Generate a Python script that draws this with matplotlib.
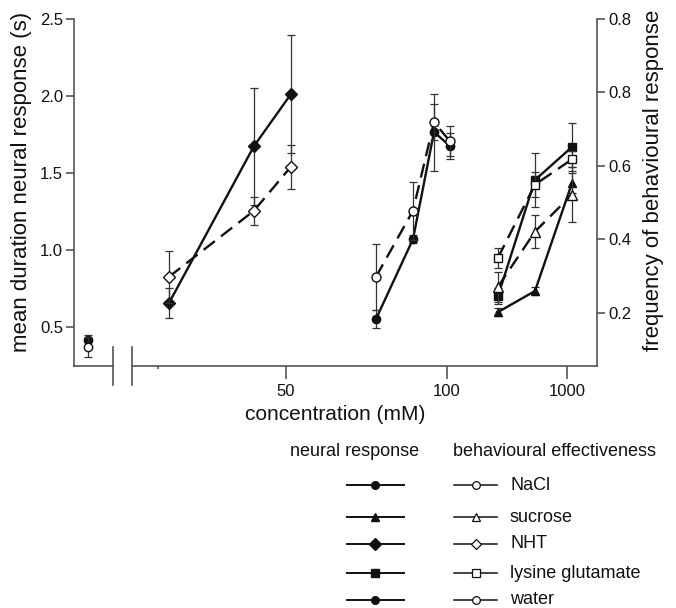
import matplotlib
matplotlib.use("Agg")
import matplotlib.pyplot as plt
from matplotlib.lines import Line2D

plt.rcParams['font.family'] = ['Liberation Sans', 'DejaVu Sans']

# ---------------- data (x = position along the broken concentration axis) ----------------
water_x = [14]
water_neural = [0.416]
water_neural_err = [0.035]
water_behav = [0.107]
water_behav_err = [0.027]

nht_x = [95, 180, 217]
nht_neural = [0.656, 1.675, 2.013]
nht_neural_err = [0.10, 0.38, 0.38]
nht_behav = [0.298, 0.478, 0.598]
nht_behav_err = [0.071, 0.038, 0.060]

nacl_x = [302, 339, 360, 376]
nacl_neural = [0.552, 1.071, 1.766, 1.675]
nacl_neural_err = [0.058, 0.026, 0.25, 0.084]
nacl_behav = [0.298, 0.478, 0.719, 0.667]
nacl_behav_err = [0.090, 0.079, 0.049, 0.041]

sucrose_x = [424, 461, 498]
sucrose_neural = [0.597, 0.734, 1.435]
sucrose_neural_err = [0.026, 0.026, 0.065]
sucrose_behav = [0.271, 0.421, 0.522]
sucrose_behav_err = [0.041, 0.046, 0.074]

lysglu_x = [424, 461, 498]
lysglu_neural = [0.701, 1.455, 1.669]
lysglu_neural_err = [0.052, 0.175, 0.156]
lysglu_behav = [0.350, 0.549, 0.618]
lysglu_behav_err = [0.027, 0.033, 0.022]

x_tick_pos = [212, 373, 493]
x_tick_labels = ["50", "100", "1000"]
left_ticks = [0.5, 1.0, 1.5, 2.0, 2.5]
left_tick_labels = ["0.5", "1.0", "1.5", "2.0", "2.5"]
right_ticks = [0.2, 0.4, 0.6, 0.8, 1.0]
right_tick_labels = ["0.2", "0.4", "0.6", "0.8", "0.8"]

legend_names = ["NaCl", "sucrose", "NHT", "lysine glutamate", "water"]
legend_markers = ["o", "^", "D", "s", "o"]

# ---------------- figure ----------------
W, H = 676, 608
fig = plt.figure(figsize=(W / 100, H / 100), dpi=100)
ax_l, ax_r, ax_t, ax_b = 74, 597, 19, 366
ax = fig.add_axes([ax_l / W, 1 - ax_b / H, (ax_r - ax_l) / W, (ax_b - ax_t) / H])
ax2 = ax.twinx()

SPINE = '#555555'
INK = '#111111'
TXT = '#111111'

ax.set_xlim(0, 523)
ax.set_ylim(0.247, 2.5)
ax2.set_ylim(0.055, 1.0)

for a in (ax, ax2):
    a.spines['top'].set_visible(False)
    a.spines['bottom'].set_visible(False)
    for s in ('left', 'right'):
        a.spines[s].set_color(SPINE)
        a.spines[s].set_linewidth(1.2)
    a.patch.set_visible(False)
ax.spines['right'].set_visible(False)
ax2.spines['left'].set_visible(False)

# broken bottom axis
tr = ax.get_xaxis_transform()
ax.plot([0, 39], [0, 0], color=SPINE, lw=1.2, transform=tr, clip_on=False)
ax.plot([58, 523], [0, 0], color=SPINE, lw=1.2, transform=tr, clip_on=False)
for bx in (39, 58):
    ax.plot([bx, bx], [-0.055, 0.055], color=SPINE, lw=1.2, transform=tr, clip_on=False)

ax.set_xticks(x_tick_pos)
ax.set_xticklabels(x_tick_labels, fontsize=12, color=TXT)
ax.set_xticks([84], minor=True)
ax.tick_params(axis='x', which='major', length=9, width=1.2, color=SPINE, pad=4)
ax.tick_params(axis='x', which='minor', length=2, width=1.2, color=SPINE)

ax.set_yticks(left_ticks)
ax.set_yticklabels(left_tick_labels, fontsize=12, color=TXT)
ax.tick_params(axis='y', length=6, width=1.2, color=SPINE, pad=2)
ax2.set_yticks(right_ticks)
ax2.set_yticklabels(right_tick_labels, fontsize=12, color=TXT)
ax2.tick_params(axis='y', length=6, width=1.2, color=SPINE, pad=2)

ax.set_xlabel("concentration (mM)", fontsize=15, color=TXT, labelpad=4)
fig.text(22 / W, 1 - 182 / H, "mean duration neural response (s)", rotation=90,
         fontsize=16, color=TXT, ha='center', va='center')
fig.text(654 / W, 1 - 180 / H, "frequency of behavioural response", rotation=90,
         fontsize=16, color=TXT, ha='center', va='center')

DASH = (0, (6, 3.3))
err_kw = dict(ecolor='#333333', elinewidth=0.9, capsize=3.2, capthick=0.9)


def neural(x, y, e, m, ms):
    ax.errorbar(x, y, yerr=e, fmt='none', **err_kw, zorder=2)
    ax.plot(x, y, color=INK, lw=1.7, marker=m, ms=ms, mfc=INK, mec=INK, zorder=3)


def behav(x, y, e, m, ms):
    ax2.errorbar(x, y, yerr=e, fmt='none', **err_kw, zorder=2)
    ax2.plot(x, y, color=INK, lw=1.7, linestyle=DASH, marker=m, ms=ms, mfc='white',
             mec=INK, mew=1.0, zorder=3)


neural(water_x, water_neural, water_neural_err, 'o', 6)
neural(nht_x, nht_neural, nht_neural_err, 'D', 6)
neural(nacl_x, nacl_neural, nacl_neural_err, 'o', 6)
neural(sucrose_x, sucrose_neural, sucrose_neural_err, '^', 6)
neural(lysglu_x, lysglu_neural, lysglu_neural_err, 's', 5.5)

behav(water_x, water_behav, water_behav_err, 'o', 6)
behav(nht_x, nht_behav, nht_behav_err, 'D', 6)
behav(nacl_x, nacl_behav, nacl_behav_err, 'o', 6.5)
behav(sucrose_x, sucrose_behav, sucrose_behav_err, '^', 6.5)
behav(lysglu_x, lysglu_behav, lysglu_behav_err, 's', 5.5)

# ---------------- legend ----------------
def fx(px):
    return px / W


def fy(py):
    return 1 - py / H


fig.text(fx(355), fy(452), "neural response", fontsize=13, color=TXT, ha='center', va='center')
fig.text(fx(453), fy(452), "behavioural effectiveness", fontsize=13, color=TXT, ha='left', va='center')
rows = [485, 517, 544, 573, 600]
for py, name, m in zip(rows, legend_names, legend_markers):
    ms_l = 5.5 if m != 'D' else 6
    fig.add_artist(Line2D([fx(347), fx(404)], [fy(py), fy(py)], color=INK, lw=1.4))
    fig.add_artist(Line2D([fx(375)], [fy(py)], marker=m, ms=ms_l, mfc=INK, mec=INK, lw=0))
    fig.add_artist(Line2D([fx(454), fx(497)], [fy(py), fy(py)], color=INK, lw=1.1))
    fig.add_artist(Line2D([fx(476)], [fy(py)], marker=m, ms=5.5, mfc='white', mec=INK,
                          mew=0.9, lw=0))
    fig.text(fx(510), fy(py), name, fontsize=13, color=TXT, ha='left', va='center')

fig.savefig("out.png", dpi=100)
